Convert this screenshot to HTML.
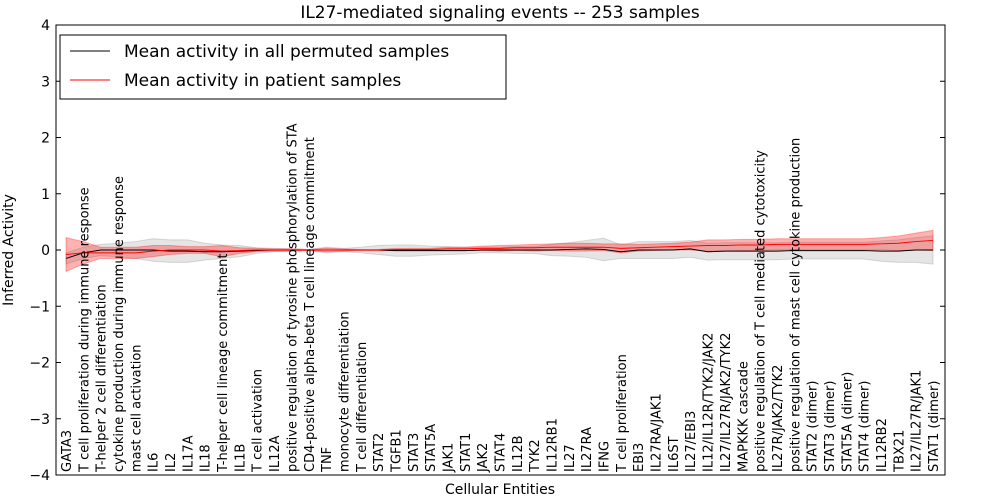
<!DOCTYPE html>
<html><head><meta charset="utf-8"><style>
body{margin:0;background:#fff;}
svg{display:block;font-family:"DejaVu Sans","Liberation Sans",sans-serif;}
</style></head><body>
<svg id="chart" width="1000" height="500">
<rect width="1000" height="500" fill="#fff"/>
<text x="500" y="18" text-anchor="middle" font-size="17">IL27-mediated signaling events -- 253 samples</text>
<g id="plot"></g>
<text x="500" y="494" text-anchor="middle" font-size="14">Cellular Entities</text>
<text transform="translate(13,250) rotate(-90)" text-anchor="middle" font-size="14">Inferred Activity</text>
</svg>
<script>
const categories=["GATA3","T cell proliferation during immune response","T-helper 2 cell differentiation","cytokine production during immune response","mast cell activation","IL6","IL2","IL17A","IL18","T-helper cell lineage commitment","IL1B","T cell activation","IL12A","positive regulation of tyrosine phosphorylation of STA","CD4-positive alpha-beta T cell lineage commitment","TNF","monocyte differentiation","T cell differentiation","STAT2","TGFB1","STAT3","STAT5A","JAK1","STAT1","JAK2","STAT4","IL12B","TYK2","IL12RB1","IL27","IL27RA","IFNG","T cell proliferation","EBI3","IL27RA/JAK1","IL6ST","IL27/EBI3","IL12/IL12R/TYK2/JAK2","IL27/IL27R/JAK2/TYK2","MAPKKK cascade","positive regulation of T cell mediated cytotoxicity","IL27R/JAK2/TYK2","positive regulation of mast cell cytokine production","STAT2 (dimer)","STAT3 (dimer)","STAT5A (dimer)","STAT4 (dimer)","IL12RB2","TBX21","IL27/IL27R/JAK1","STAT1 (dimer)"];
const patientMean=[-0.08,-0.05,-0.05,-0.05,-0.05,-0.02,0,0,0,-0.02,-0.01,0,0,0,0,0,0,0,0,0.01,0.01,0.01,0.02,0.02,0.03,0.03,0.04,0.04,0.05,0.05,0.05,0.05,0.03,0.04,0.05,0.06,0.07,0.08,0.08,0.09,0.09,0.1,0.1,0.1,0.1,0.1,0.1,0.11,0.12,0.15,0.17];
const patientStd=[0.3,0.2,0.1,0.1,0.1,0.1,0.08,0.06,0.06,0.1,0.05,0.03,0.02,0.02,0.01,0.03,0.02,0.01,0.01,0.02,0.02,0.02,0.03,0.03,0.04,0.05,0.05,0.06,0.06,0.07,0.07,0.06,0.08,0.06,0.06,0.06,0.07,0.1,0.1,0.1,0.1,0.1,0.1,0.1,0.1,0.1,0.1,0.11,0.13,0.15,0.18];
const permMean=[-0.15,-0.05,0,0,0,0,-0.02,-0.02,-0.03,-0.03,-0.02,-0.01,0,0,0,0,0,0,0,-0.01,-0.01,-0.01,-0.01,-0.01,0,0,0,0,0,0.01,0.02,0.01,-0.03,0,0,0,0.02,-0.03,-0.02,-0.02,-0.02,-0.02,-0.01,-0.01,-0.01,-0.01,-0.01,-0.02,-0.02,0,0];
const permStd=[0.1,0.1,0.1,0.12,0.15,0.2,0.2,0.2,0.15,0.12,0.1,0.05,0.03,0.02,0.01,0.05,0.03,0.05,0.08,0.1,0.1,0.08,0.07,0.06,0.05,0.05,0.06,0.06,0.1,0.12,0.15,0.2,0.12,0.15,0.15,0.15,0.15,0.15,0.15,0.15,0.15,0.15,0.15,0.15,0.15,0.15,0.15,0.18,0.2,0.22,0.25];
const yTicks=[-4,-3,-2,-1,0,1,2,3,4];
const yTickLabels=["\u22124","\u22123","\u22122","\u22121","0","1","2","3","4"];

const NS="http://www.w3.org/2000/svg";
const L=56,R=945,T=25,B=475;
const x0=66,x1=933;
const sx=i=>x0+(x1-x0)*i/(categories.length-1);
const sy=v=>T+(4-v)*(B-T)/8;
const g=document.getElementById('plot');
function mk(tag,attrs,parent){const e=document.createElementNS(NS,tag);for(const k in attrs)e.setAttribute(k,attrs[k]);(parent||g).appendChild(e);return e;}
function band(m,s){let p="";m.forEach((v,i)=>p+=(i?"L":"M")+sx(i)+","+sy(v+s[i]));for(let i=m.length-1;i>=0;i--)p+="L"+sx(i)+","+sy(m[i]-s[i]);return p+"Z";}
function line(m){return m.map((v,i)=>(i?"L":"M")+sx(i)+","+sy(v)).join("");}

const pb=mk('path',{d:band(permMean,permStd),fill:'#000',"fill-opacity":0.1,stroke:'#888',"stroke-opacity":0.3});


const rb=mk('path',{d:band(patientMean,patientStd),fill:'#f00',"fill-opacity":0.3,stroke:'#f00',"stroke-opacity":0.3});


const pl=mk('path',{d:line(permMean),fill:'none',stroke:'#000',"stroke-width":1});


const rl=mk('path',{d:line(patientMean),fill:'none',stroke:'#f00',"stroke-width":1});



const frame=mk('rect',{x:L,y:T,width:R-L,height:B-T,fill:'none',stroke:'#000'});



yTicks.forEach((v,i)=>{
  const y=sy(v);
  mk('line',{x1:L,x2:L+5,y1:y,y2:y,stroke:'#000'});
  mk('line',{x1:R,x2:R-5,y1:y,y2:y,stroke:'#000'});
  const t=mk('text',{x:L-6,y:y+5,"text-anchor":"end","font-size":14});
  t.textContent=yTickLabels[i];
  
  
});
categories.forEach((c,i)=>{
  const x=sx(i);
  const t=mk('text',{transform:`translate(${x+5},${B-3}) rotate(-90)`,"font-size":13});
  t.textContent=c;
  
  
});

const lg=mk('g',{});


mk('rect',{x:60,y:35,width:446,height:64,fill:'#fff',stroke:'#000'},lg);
mk('line',{x1:70,x2:110,y1:51,y2:51,stroke:'#000'},lg);
const t1=mk('text',{x:124,y:57,"font-size":17},lg);t1.textContent="Mean activity in all permuted samples";


mk('line',{x1:70,x2:110,y1:80,y2:80,stroke:'#f00'},lg);
const t2=mk('text',{x:124,y:86,"font-size":17},lg);t2.textContent="Mean activity in patient samples";


</script>
</body></html>
